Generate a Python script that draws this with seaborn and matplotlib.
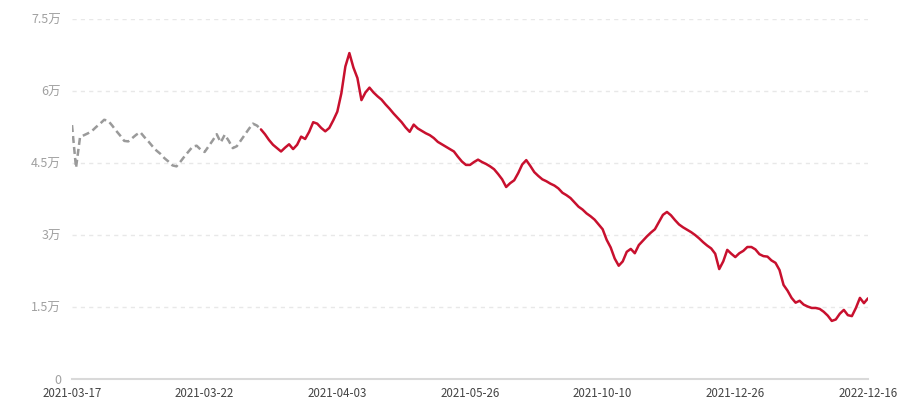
import numpy as np
import pandas as pd
import matplotlib
matplotlib.use("Agg")
import matplotlib.pyplot as plt
import seaborn as sns

# Values, in 万
values_wan = [
    5.29, 4.40, 5.04, 5.08, 5.12, 5.17, 5.25, 5.32, 5.40, 5.38,
    5.28, 5.17, 5.07, 4.96, 4.95, 5.02, 5.09, 5.14, 5.04, 4.95,
    4.85, 4.76, 4.69, 4.60, 4.53, 4.45, 4.43, 4.53, 4.64, 4.74,
    4.84, 4.86, 4.78, 4.73, 4.85, 4.97, 5.10, 4.93, 5.09, 4.96,
    4.81, 4.85, 4.97, 5.09, 5.21, 5.32, 5.28, 5.20, 5.10, 4.98,
    4.88, 4.81, 4.74, 4.82, 4.89, 4.79, 4.88, 5.05, 5.00, 5.15,
    5.35, 5.32, 5.23, 5.16, 5.23, 5.39, 5.57, 5.95, 6.51, 6.79,
    6.49, 6.27, 5.81, 5.97, 6.07, 5.97, 5.89, 5.82, 5.72, 5.63,
    5.53, 5.44, 5.35, 5.24, 5.15, 5.30, 5.22, 5.17, 5.12, 5.08,
    5.02, 4.94, 4.89, 4.84, 4.79, 4.74, 4.63, 4.53, 4.46, 4.46,
    4.52, 4.57, 4.52, 4.48, 4.43, 4.37, 4.27, 4.16, 4.00, 4.08,
    4.14, 4.29, 4.47, 4.56, 4.44, 4.31, 4.23, 4.16, 4.12, 4.07,
    4.03, 3.97, 3.88, 3.83, 3.77, 3.68, 3.59, 3.53, 3.45, 3.39,
    3.32, 3.22, 3.12, 2.90, 2.74, 2.51, 2.36, 2.45, 2.65, 2.71,
    2.62, 2.79, 2.88, 2.97, 3.05, 3.12, 3.27, 3.42, 3.48, 3.41,
    3.31, 3.22, 3.16, 3.11, 3.06, 3.00, 2.93, 2.85, 2.78, 2.72,
    2.61, 2.29, 2.45, 2.69, 2.61, 2.54, 2.62, 2.67, 2.75, 2.75,
    2.70, 2.60, 2.56, 2.55, 2.47, 2.42, 2.27, 1.96, 1.84, 1.69,
    1.59, 1.63, 1.55, 1.51, 1.48, 1.48, 1.46, 1.40, 1.32, 1.21,
    1.24, 1.36, 1.44, 1.33, 1.31, 1.48, 1.69, 1.58, 1.68,
]
# first part of the series is drawn as a gray dashed line
estimated_count = 48
tick_labels = ["2021-03-17", "2021-03-22", "2021-04-03", "2021-05-26",
               "2021-10-10", "2021-12-26", "2022-12-16"]
y_ticks = [0, 15000, 30000, 45000, 60000, 75000]
y_tick_labels = ["0", "1.5万", "3万", "4.5万", "6万", "7.5万"]

df = pd.DataFrame({"idx": np.arange(len(values_wan)),
                   "value": np.array(values_wan) * 10000})
est = df.iloc[:estimated_count]
real = df.iloc[estimated_count - 1:]

sns.set_style("white")
plt.rcParams["font.family"] = ["Noto Sans CJK SC", "DejaVu Sans"]

fig = plt.figure(figsize=(9, 4), dpi=100)
ax = fig.add_axes([0.08, 0.0525, 0.8844, 0.9])

sns.lineplot(data=est, x="idx", y="value", ax=ax, color="#9a9a9a",
             linewidth=1.8, linestyle=(0, (2.8, 1.6)))
sns.lineplot(data=real, x="idx", y="value", ax=ax, color="#c8102e",
             linewidth=1.8)

ax.set_xlim(0, len(values_wan) - 1)
ax.set_ylim(0, 75000)

ax.set_yticks(y_ticks)
ax.set_yticklabels(y_tick_labels)
for y in y_ticks[1:]:
    ax.axhline(y, color="#e8e8e8", linewidth=1, linestyle=(0, (3, 3)), zorder=0)

step = (len(values_wan) - 1) // (len(tick_labels) - 1)
ax.set_xticks([i * step for i in range(len(tick_labels))])
ax.set_xticklabels(tick_labels)

ax.set_xlabel("")
ax.set_ylabel("")
for side in ["top", "right", "left"]:
    ax.spines[side].set_visible(False)
ax.spines["bottom"].set_color("#d9d9d9")
ax.spines["bottom"].set_linewidth(1.5)
ax.tick_params(axis="y", length=0, pad=8, labelsize=9, labelcolor="#a0a0a0")
ax.tick_params(axis="x", length=3, width=1, color="#d9d9d9", pad=3,
               labelsize=8.3, labelcolor="#444444")

fig.savefig("out.png", dpi=100)
